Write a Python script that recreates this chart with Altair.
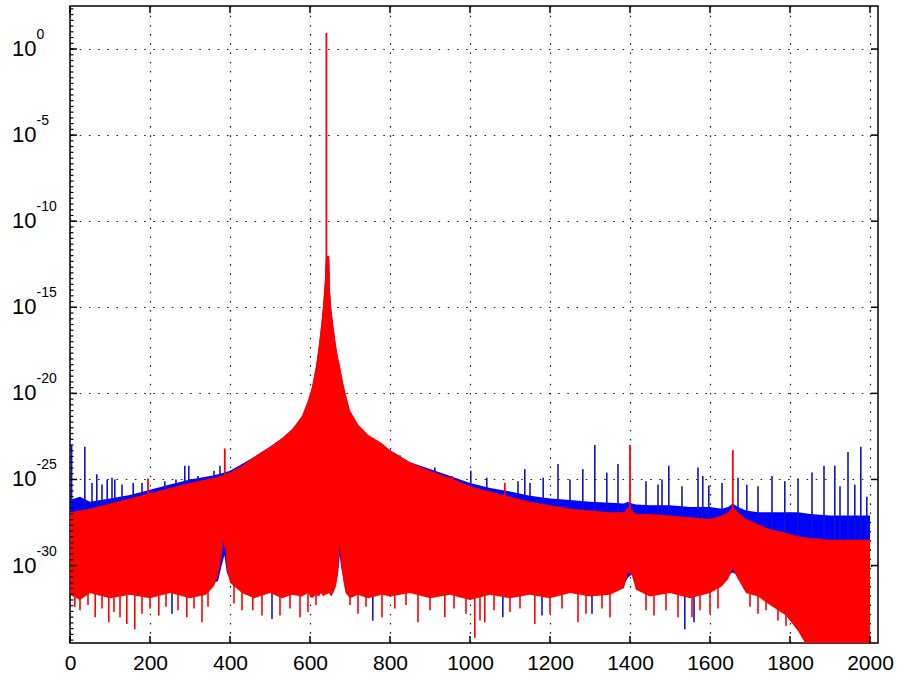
import altair as alt
import pandas as pd

# ---------------------------------------------------------------
# Two overlaid magnitude spectra (log scale).  The dense part of
# each spectrum is given as an upper and lower envelope (log10 of
# the magnitude) sampled at the frequencies below; isolated lines
# that stick out of the band are listed separately.
# ---------------------------------------------------------------
freq = [0, 25, 50, 100, 150, 200, 250, 300, 340, 360, 370, 378, 386, 392, 400,
        430, 460, 500, 530, 555, 580, 595, 605, 615, 622, 628, 633, 637, 640,
        648, 650, 653, 658, 665, 670, 674, 678, 684, 689, 700, 720, 745, 780,
        800, 850, 900, 950, 1000, 1050, 1100, 1150, 1200, 1250, 1300, 1350,
        1385, 1395, 1405, 1415, 1450, 1500, 1550, 1600, 1630, 1645, 1657, 1670,
        1690, 1720, 1750, 1790, 1820, 1850, 1900, 1950, 2000]

red_top = [-26.9, -26.8, -26.7, -26.4, -26.1, -25.8, -25.5, -25.2, -25.0, -24.9,
           -24.85, -24.8, -24.7, -24.65, -24.6,
           -24.2, -23.7, -23.1, -22.6, -22.1, -21.3, -20.4, -19.6, -18.4, -17.2,
           -16.0, -14.8, -13.5, -12.0,
           -12.0, -14.0, -15.0, -16.0, -17.2, -17.9, -18.3, -18.8, -19.5, -20.0,
           -21.0, -21.8, -22.4, -22.9,
           -23.3, -24.0, -24.5, -24.9, -25.4, -25.7, -26.0, -26.3, -26.5, -26.7,
           -26.8, -26.9,
           -26.9, -26.6, -26.8, -27.0, -27.0, -27.1, -27.2, -27.3, -27.1, -26.9,
           -26.6, -26.9,
           -27.3, -27.6, -27.9, -28.1, -28.3, -28.4, -28.5, -28.5, -28.5]

red_bottom = [-31.7, -32.0, -31.6, -31.9, -31.7, -31.9, -31.6, -31.9, -31.7, -31.2,
              -30.6, -29.6, -28.2, -30.2, -31.0,
              -31.6, -31.9, -31.6, -31.9, -31.7, -31.8, -31.6, -31.9, -31.7, -31.8,
              -31.6, -31.8, -31.7, -31.7,
              -31.6, -31.7, -31.8, -31.6, -31.2, -30.4, -28.8, -30.0, -31.0, -31.6,
              -31.9, -31.7, -31.9, -31.7,
              -31.8, -31.6, -31.9, -31.7, -32.0, -31.7, -31.9, -31.7, -31.9, -31.6,
              -31.8, -31.7,
              -31.3, -30.4, -30.6, -31.4, -31.8, -31.6, -31.9, -31.6, -31.2, -30.8,
              -30.2, -30.8,
              -31.6, -31.8, -32.3, -32.9, -33.8, -35.0, -35.0, -35.0, -35.0]

blue_top = [-26.2, -26.0, -26.3, -26.1, -25.9, -25.6, -25.3, -25.0, -24.85, -24.75,
            -24.7, -24.65, -24.6, -24.55, -24.5,
            -24.1, -23.7, -23.1, -22.6, -22.1, -21.4, -20.5, -19.7, -18.5, -17.3,
            -16.1, -14.9, -13.6, -12.1,
            -12.1, -14.1, -15.1, -16.1, -17.3, -18.0, -18.4, -18.9, -19.6, -20.1,
            -21.1, -21.9, -22.5, -23.0,
            -23.3, -24.0, -24.4, -24.8, -25.2, -25.5, -25.7, -25.95, -26.1, -26.2,
            -26.3, -26.35,
            -26.4, -26.3, -26.4, -26.45, -26.5, -26.5, -26.6, -26.6, -26.7, -26.6,
            -26.4, -26.6,
            -26.8, -26.9, -26.9, -26.9, -26.9, -27.0, -27.1, -27.1, -27.1]

# the blue band stays inside the red one at the bottom, except in the
# narrow notches where it shows underneath
blue_bottom = [-31.5, -31.8, -31.4, -31.7, -31.5, -31.7, -31.4, -31.7, -31.5, -31.0,
               -30.9, -30.1, -29.4, -30.4, -30.8,
               -31.4, -31.7, -31.4, -31.7, -31.5, -31.6, -31.4, -31.7, -31.5, -31.6,
               -31.4, -31.6, -31.5, -31.5,
               -31.4, -31.5, -31.6, -31.4, -31.0, -30.5, -29.4, -30.1, -30.8, -31.4,
               -31.7, -31.5, -31.7, -31.5,
               -31.6, -31.4, -31.7, -31.5, -31.8, -31.5, -31.7, -31.5, -31.7, -31.4,
               -31.6, -31.5,
               -31.1, -30.7, -30.5, -31.2, -31.6, -31.4, -31.7, -31.4, -31.0, -30.6,
               -30.4, -30.6,
               -31.4, -31.6, -32.1, -32.7, -33.6, -34.8, -34.8, -34.8, -34.8]

# lines rising above the band: frequency and log10 magnitude
blue_peak_f = [4, 37, 55, 67, 80, 93, 105, 112, 130, 158, 180, 237, 265, 287, 297,
               320, 360, 375, 420, 825, 912, 1002, 1042, 1120, 1137, 1150, 1183,
               1220, 1250, 1282, 1312, 1342, 1370, 1440, 1470, 1480, 1497, 1530,
               1570, 1582, 1597, 1630, 1670, 1692, 1720, 1755, 1787, 1820, 1855,
               1885, 1912, 1925, 1945, 1962, 1977, 1992]
blue_peak_v = [-23.0, -23.1, -25.2, -24.7, -25.3, -25.0, -24.9, -25.0, -25.3, -25.2,
               -25.2, -25.1, -25.0, -24.2, -24.2, -24.8, -24.5, -24.2, -24.3, -23.6,
               -24.3, -24.5, -24.9, -25.1, -24.4, -25.2, -24.9, -24.1, -25.0, -24.4,
               -23.0, -24.6, -24.1, -25.1, -25.3, -25.0, -24.2, -25.4, -24.3, -24.8,
               -25.35, -25.2, -24.9, -25.3, -25.4, -24.8, -25.1, -24.95, -24.6,
               -24.2, -24.2, -25.4, -23.4, -25.3, -23.1, -26.0]

red_peak_f = [195, 387, 641, 955, 1087, 1400, 1657]
red_peak_v = [-24.95, -23.2, 0.93, -24.8, -25.2, -23.0, -23.3]

# lines dipping below the band: frequency and log10 magnitude
red_dip_f = [12, 25, 45, 63, 80, 97, 110, 125, 142, 162, 180, 200, 222, 240, 270,
             292, 310, 330, 345, 410, 430, 457, 480, 525, 550, 575, 595, 615, 700,
             720, 740, 780, 812, 840, 870, 900, 937, 960, 990, 1012, 1025, 1037,
             1060, 1100, 1125, 1162, 1200, 1230, 1270, 1290, 1330, 1350, 1440,
             1460, 1490, 1520, 1555, 1575, 1600, 1620, 1700, 1720, 1740, 1770, 1790,
             1830, 1845]
red_dip_v = [-32.4, -32.6, -32.3, -33.0, -32.5, -33.3, -32.7, -33.0, -33.4, -33.7,
             -32.8, -32.5, -32.9, -32.4, -32.6, -33.0, -32.5, -33.3, -32.4, -32.2,
             -32.6, -32.6, -32.9, -32.9, -32.5, -33.0, -32.7, -32.3, -32.3, -32.8,
             -32.4, -33.0, -32.5, -32.3, -33.3, -32.6, -33.0, -32.5, -32.8, -34.2,
             -33.2, -33.3, -32.6, -32.7, -32.5, -33.4, -32.8, -32.5, -33.3, -32.8,
             -32.5, -33.0, -32.6, -32.9, -32.6, -33.0, -33.0, -32.6, -32.8, -32.5,
             -32.4, -32.8, -32.6, -33.2, -33.5, -34.0, -34.3]

blue_dip_f = [255, 505, 757, 1082, 1180, 1305, 1537, 1560]
blue_dip_v = [-32.8, -33.1, -33.2, -33.0, -32.9, -32.8, -33.7, -33.3]

# axis furniture
x_ticks = [0, 200, 400, 600, 800, 1000, 1200, 1400, 1600, 1800, 2000]
y_exponents = [0, -5, -10, -15, -20, -25, -30]

RED = "#ff0000"
BLUE = "#0000ff"
W, H = 808, 637

band = pd.DataFrame({
    "f": freq,
    "red_hi": [10.0 ** v for v in red_top],
    "red_lo": [10.0 ** v for v in red_bottom],
    "blue_hi": [10.0 ** v for v in blue_top],
    "blue_lo": [10.0 ** v for v in blue_bottom],
})
blue_peaks = pd.DataFrame({"f": blue_peak_f, "hi": [10.0 ** v for v in blue_peak_v],
                           "lo": 1e-29})
red_peaks = pd.DataFrame({"f": red_peak_f, "hi": [10.0 ** v for v in red_peak_v],
                          "lo": 1e-29})
red_dips = pd.DataFrame({"f": red_dip_f, "lo": [10.0 ** v for v in red_dip_v],
                         "hi": 1e-31})
blue_dips = pd.DataFrame({"f": blue_dip_f, "lo": [10.0 ** v for v in blue_dip_v],
                          "hi": 1e-31})
xt = pd.DataFrame({"f": x_ticks})
yt = pd.DataFrame({
    "v": [10.0 ** e for e in y_exponents],
    "base": ["10"] * len(y_exponents),
    "exp": [str(e) for e in y_exponents],
})
minor = pd.DataFrame({"v": [10.0 ** (k / 3.0) for k in range(-103, 8)]})

xscale = alt.Scale(domain=[0, 2020], nice=False, zero=False)
yscale = alt.Scale(type="log", domain=[10 ** -34.5, 10 ** 2.5], nice=False)

xaxis = alt.Axis(values=x_ticks, title=None, grid=True, ticks=False, tickSize=0,
                 domain=False, labelFlush=False, labelPadding=9, labelFontSize=21,
                 labelFont="Liberation Sans", labelColor="#000000", format="d",
                 gridDash=[1.6, 7.6], gridColor="#222222", gridWidth=1.2)
yaxis = alt.Axis(values=[10.0 ** e for e in y_exponents], title=None, grid=True,
                 labels=False, ticks=False, tickSize=0, domain=False,
                 gridDash=[1.6, 7.6], gridColor="#222222", gridWidth=1.2)


def X(field):
    return alt.X(field, type="quantitative", scale=xscale, axis=xaxis)


def Y(field):
    return alt.Y(field, type="quantitative", scale=yscale, axis=yaxis)


blue_band = alt.Chart(band).mark_area(color=BLUE, opacity=1, clip=True).encode(
    x=X("f"), y=Y("blue_hi"), y2="blue_lo")
blue_up = alt.Chart(blue_peaks).mark_rule(color="#1212c8", strokeWidth=1.6,
                                          clip=True).encode(
    x=X("f"), y=Y("hi"), y2="lo")
blue_down = alt.Chart(blue_dips).mark_rule(color="#1212c8", strokeWidth=1.6,
                                           clip=True).encode(
    x=X("f"), y=Y("lo"), y2="hi")
red_band = alt.Chart(band).mark_area(color=RED, opacity=1, clip=True).encode(
    x=X("f"), y=Y("red_hi"), y2="red_lo")
red_up = alt.Chart(red_peaks).mark_rule(color=RED, strokeWidth=1.8,
                                        clip=True).encode(
    x=X("f"), y=Y("hi"), y2="lo")
red_down = alt.Chart(red_dips).mark_rule(color=RED, strokeWidth=1.6,
                                         clip=True).encode(
    x=X("f"), y=Y("lo"), y2="hi")

# inward ticks on all four sides of the box
tick_style = dict(color="#000000", strokeWidth=1.5)
tick_bottom = alt.Chart(xt).mark_rule(**tick_style).encode(
    x=X("f"), y=alt.value(H), y2=alt.value(H - 7))
tick_top = alt.Chart(xt).mark_rule(**tick_style).encode(
    x=X("f"), y=alt.value(0), y2=alt.value(7))
tick_left = alt.Chart(yt).mark_rule(**tick_style).encode(
    y=Y("v"), x=alt.value(0), x2=alt.value(7))
tick_right = alt.Chart(yt).mark_rule(**tick_style).encode(
    y=Y("v"), x=alt.value(W), x2=alt.value(W - 7))
tick_minor = alt.Chart(minor).mark_rule(color="#000000", strokeWidth=1.2).encode(
    y=Y("v"), x=alt.value(0), x2=alt.value(3.5))

# "10" with a raised exponent for each decade label
lab_base = alt.Chart(yt).mark_text(align="left", baseline="middle", fontSize=22,
                                   font="Liberation Sans", color="#000000").encode(
    y=Y("v"), x=alt.value(-58), text="base:N")
lab_exp = alt.Chart(yt).mark_text(align="left", baseline="middle", fontSize=14,
                                  font="Liberation Sans", color="#000000",
                                  dy=-14).encode(
    y=Y("v"), x=alt.value(-33.5), text="exp:N")

chart = alt.layer(
    blue_band, blue_up, blue_down, red_band, red_up, red_down,
    tick_bottom, tick_top, tick_left, tick_right, tick_minor,
    lab_base, lab_exp,
).properties(
    width=W, height=H,
    autosize=alt.AutoSizeParams(type="none"),
    padding={"left": 70, "top": 6, "right": 20, "bottom": 38},
    background="#ffffff",
).configure_view(stroke="#000000", strokeWidth=1.5)

chart.save("out.html", embed_options={"renderer": "svg", "actions": False})
